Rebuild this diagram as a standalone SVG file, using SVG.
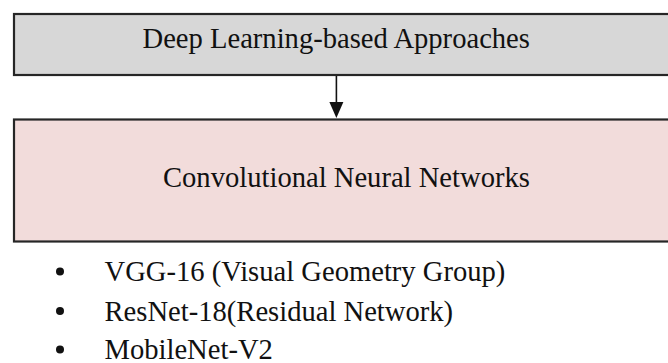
<svg xmlns="http://www.w3.org/2000/svg" width="668" height="363" viewBox="0 0 668 363">
<style>
.box{stroke:#262626;stroke-width:2.2}
.t{font-family:"Liberation Serif","Times New Roman",serif;font-size:28.6px;fill:#111}
.conn{stroke:#111;stroke-width:1.6;fill:none}
</style>
<rect width="668" height="363" fill="#ffffff"/>
<g id="node-deep-learning">
<rect class="box" x="14" y="14" width="680" height="61" fill="#d7d7d7"/>
<text class="t" x="142.5" y="48.3">Deep Learning-based Approaches</text>
</g>
<g id="node-cnn">
<rect class="box" x="14" y="119.5" width="680" height="122" fill="#f2dcdb"/>
<text class="t" x="163" y="187.3">Convolutional Neural Networks</text>
</g>
<g id="connectors">
<line class="conn" x1="336.4" y1="76" x2="336.4" y2="104"/>
<polygon points="329.4,102 343.4,102 336.4,118" fill="#111"/>
</g>
<g id="list">
<circle cx="60" cy="271.5" r="4" fill="#111"/>
<circle cx="60" cy="311" r="4" fill="#111"/>
<circle cx="60" cy="349.5" r="4" fill="#111"/>
<text class="t" x="104.5" y="281">VGG-16 (Visual Geometry Group)</text>
<text class="t" x="104.5" y="320.5">ResNet-18(Residual Network)</text>
<text class="t" x="104.5" y="358.5">MobileNet-V2</text>
</g>
</svg>
